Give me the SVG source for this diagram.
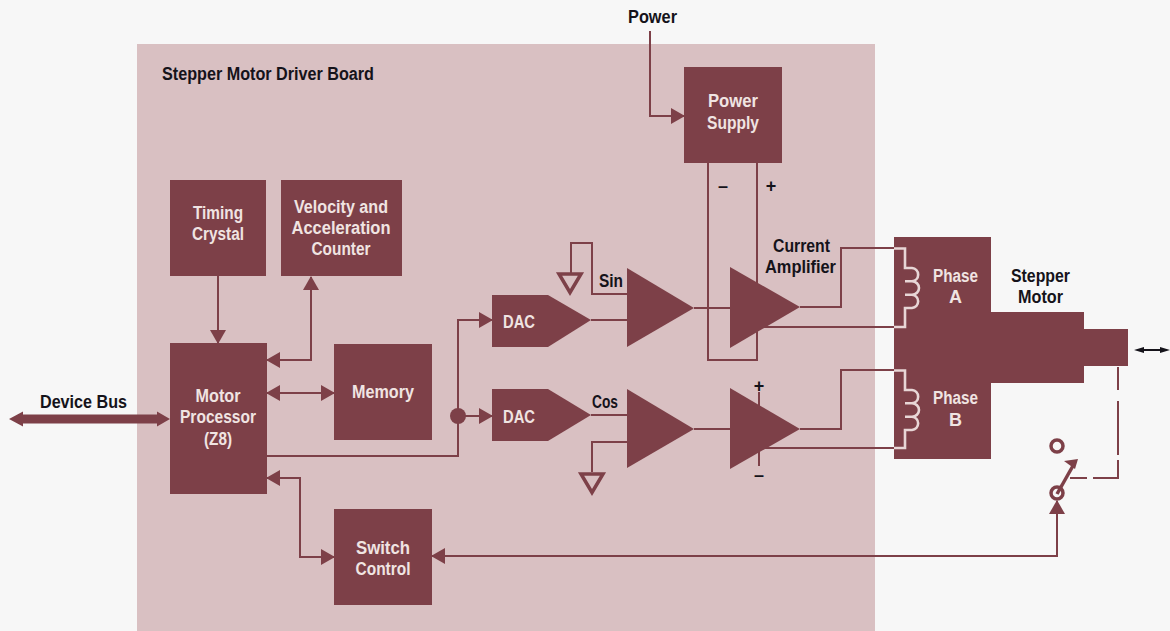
<svg xmlns="http://www.w3.org/2000/svg" width="1170" height="631" viewBox="0 0 1170 631">
<style>
.bg{fill:#f7f7f7}
.board{fill:#d9c0c2}
.box{fill:#7d4048}
.w{fill:none;stroke:#7d4048;stroke-width:2}
.coil{fill:none;stroke:#e8d6d6;stroke-width:2.6}
.o{fill:none;stroke:#7d4048;stroke-width:3.5}
text{font-family:"Liberation Sans",Arial,sans-serif;font-weight:700;font-size:18px;text-anchor:middle}
.l{fill:#f0e4e2}
.k{fill:#15131a}
</style>
<defs>
<marker id="a" markerUnits="userSpaceOnUse" markerWidth="14" markerHeight="16" refX="13" refY="8" orient="auto-start-reverse" viewBox="0 0 14 16"><path d="M0 0L14 8L0 16Z" fill="#7d4048"/></marker>
</defs>
<rect class="bg" width="1170" height="631"/>
<rect class="board" x="137" y="44" width="738" height="587"/>
<g id="connectors">
<path class="w" d="M218 276V343" marker-end="url(#a)"/>
<path class="w" d="M311 277V360H267" marker-start="url(#a)" marker-end="url(#a)"/>
<path class="w" d="M267 393H334" marker-start="url(#a)" marker-end="url(#a)"/>
<path class="w" d="M267 478H300V557H334" marker-start="url(#a)" marker-end="url(#a)"/>
<path class="w" d="M267 456H458V320H492" marker-end="url(#a)"/>
<path class="w" d="M458 416H492" marker-end="url(#a)"/>
<circle cx="458" cy="416" r="8" fill="#7d4048"/>
<path d="M9 419L23 411.500V414.500H157V411.500L170 419L157 426.500V423.500H23V426.500Z" fill="#7d4048"/>
<path class="w" d="M650 31V116H684" marker-end="url(#a)"/>
<path class="w" d="M708 163V360H757V163"/>
<path class="w" d="M591 320H627M694 308H730M800 307H841V248H894M750 327H894"/>
<path class="w" d="M591 415H627M694 429H730M800 429H841V370H894M750 448H894M759 392V466"/>
<path class="w" d="M571 273V243H592V294H627"/>
<path class="w" d="M627 442H592V472"/>
<path class="w" d="M432 556H1057V501" marker-start="url(#a)" marker-end="url(#a)"/>
<path class="w" d="M1118 367V390M1118 401V455M1118 460V478H1093M1087 478H1070"/>
<path d="M1057 494L1074 464" stroke="#7d4048" stroke-width="3.500"/>
<path d="M1078 459L1064 461L1075 469Z" fill="#7d4048"/>
<path d="M1134 350L1144 347V349H1160V347L1170 350L1160 353V351H1144V353Z" fill="#15131a"/>
</g>
<g id="board-label"><text class="k" x="268" y="80" textLength="212" lengthAdjust="spacingAndGlyphs">Stepper Motor Driver Board</text></g>
<g id="timing"><rect class="box" x="170" y="180" width="96" height="96"/><text class="l" x="218" y="219" textLength="50" lengthAdjust="spacingAndGlyphs">Timing</text><text class="l" x="218" y="240" textLength="52" lengthAdjust="spacingAndGlyphs">Crystal</text></g>
<g id="velocity"><rect class="box" x="281" y="180" width="121" height="96"/><text class="l" x="341" y="213" textLength="94" lengthAdjust="spacingAndGlyphs">Velocity and</text><text class="l" x="341" y="234" textLength="99" lengthAdjust="spacingAndGlyphs">Acceleration</text><text class="l" x="341" y="255" textLength="59" lengthAdjust="spacingAndGlyphs">Counter</text></g>
<g id="processor"><rect class="box" x="170" y="343" width="97" height="151"/><text class="l" x="218" y="402" textLength="45" lengthAdjust="spacingAndGlyphs">Motor</text><text class="l" x="218" y="423" textLength="76" lengthAdjust="spacingAndGlyphs">Processor</text><text class="l" x="218" y="445" textLength="28" lengthAdjust="spacingAndGlyphs">(Z8)</text></g>
<g id="memory"><rect class="box" x="334" y="344" width="98" height="96"/><text class="l" x="383" y="398" textLength="62" lengthAdjust="spacingAndGlyphs">Memory</text></g>
<g id="switch"><rect class="box" x="334" y="509" width="98" height="96"/><text class="l" x="383" y="554" textLength="54" lengthAdjust="spacingAndGlyphs">Switch</text><text class="l" x="383" y="575" textLength="55" lengthAdjust="spacingAndGlyphs">Control</text></g>
<g id="device-bus"><text class="k" x="83.500" y="408" textLength="87" lengthAdjust="spacingAndGlyphs">Device Bus</text></g>
<g id="power-label"><text class="k" x="652.500" y="23" textLength="49" lengthAdjust="spacingAndGlyphs">Power</text></g>
<g id="supply"><rect class="box" x="684" y="67" width="98" height="96"/><text class="l" x="733" y="107" textLength="50" lengthAdjust="spacingAndGlyphs">Power</text><text class="l" x="733" y="129" textLength="52" lengthAdjust="spacingAndGlyphs">Supply</text><text class="k" x="723" y="192">–</text><text class="k" x="771" y="192">+</text></g>
<g id="dac1"><path class="box" d="M492 295H548L591 320L548 347H492Z"/><text class="l" x="519" y="328" textLength="32" lengthAdjust="spacingAndGlyphs">DAC</text></g>
<g id="dac2"><path class="box" d="M492 389H548L591 415L548 441H492Z"/><text class="l" x="519" y="423" textLength="32" lengthAdjust="spacingAndGlyphs">DAC</text></g>
<g id="amp-sin"><path class="box" d="M627 268L694 308L627 347Z"/><path class="o" d="M559 274H581L570 292.500Z"/><text class="k" x="611" y="287" textLength="24" lengthAdjust="spacingAndGlyphs">Sin</text></g>
<g id="amp-cos"><path class="box" d="M627 389L694 429L627 468Z"/><path class="o" d="M581 474H603L592 492.500Z"/><text class="k" x="605" y="408" textLength="26" lengthAdjust="spacingAndGlyphs">Cos</text></g>
<g id="amp-a"><path class="box" d="M730 267L800 307L730 348Z"/><text class="k" x="801.500" y="252" textLength="57" lengthAdjust="spacingAndGlyphs">Current</text><text class="k" x="800.500" y="273" textLength="71" lengthAdjust="spacingAndGlyphs">Amplifier</text></g>
<g id="amp-b"><path class="box" d="M730 388L800 429L730 469Z"/><text class="k" x="759" y="392">+</text><text class="k" x="759" y="481">–</text></g>
<g id="motor">
<path class="box" d="M894 237H991V312H1084V329H1128V366H1084V383H991V459H894Z"/>
<path class="coil" d="M894 248.500H905V268H912A7 6.700 0 0 1 912 281.300H905M912 281.300A7 6.700 0 0 1 912 294.700H905M912 294.700A7 6.700 0 0 1 912 308H905V327H894"/>
<path class="coil" d="M894 370.500H905V390H912A7 6.700 0 0 1 912 403.300H905M912 403.300A7 6.700 0 0 1 912 416.700H905M912 416.700A7 6.700 0 0 1 912 430H905V448H894"/>
<text class="l" x="955.500" y="282" textLength="45" lengthAdjust="spacingAndGlyphs">Phase</text><text class="l" x="955.500" y="303">A</text>
<text class="l" x="955.500" y="404" textLength="45" lengthAdjust="spacingAndGlyphs">Phase</text><text class="l" x="955.500" y="426">B</text>
<text class="k" x="1040.500" y="282" textLength="59" lengthAdjust="spacingAndGlyphs">Stepper</text><text class="k" x="1040.500" y="303" textLength="45" lengthAdjust="spacingAndGlyphs">Motor</text>
</g>
<g id="switch-contact"><circle class="o" cx="1057" cy="446" r="6"/><circle class="o" cx="1057" cy="493" r="6"/></g>
</svg>
